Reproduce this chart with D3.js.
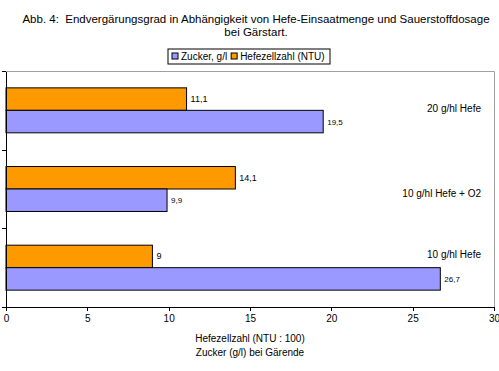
<!DOCTYPE html>
<html>
<head>
<meta charset="utf-8">
<style>
    body { margin: 0; background: white; }
    text { font-family: "Liberation Sans", Arial, sans-serif; fill: black; }
    .bar { stroke: black; stroke-width: 1; }
    .frame { fill: none; stroke: #a0a0a0; stroke-width: 1; }
    .axis path, .axis line { stroke: black; shape-rendering: crispEdges; }
</style>
</head>
<body>
<div id="chart"></div>
<script src="https://cdn.jsdelivr.net/npm/d3@7"></script>
<script>

//////////////////// donnees ////////////////////
let categories = ['20 g/hl Hefe', '10 g/hl Hefe + O2', '10 g/hl Hefe'];
let series = ['Hefezellzahl (NTU)', 'Zucker, g/l'];
let hefezellzahl = [11.1, 14.1, 9];
let zucker = [19.5, 9.9, 26.7];
let x_ticks = [0, 5, 10, 15, 20, 25, 30];
let legend_order = ['Zucker, g/l', 'Hefezellzahl (NTU)'];

//////////////////// mise en page ////////////////////
let W = 499, H = 371;
let plot_left = 6, plot_right = 494, plot_top = 71, plot_bottom = 307;
let colors = { 'Hefezellzahl (NTU)': '#ff9900', 'Zucker, g/l': '#9999ff' };
let label_size = { 'Hefezellzahl (NTU)': 9, 'Zucker, g/l': 8 };
let cat_label_dy = [2, 8, -10];

let svg = d3.select('#chart').append('svg')
    .attr('width', W)
    .attr('height', H);

// titre
let title = svg.append('text')
    .attr('text-anchor', 'middle')
    .style('font-size', '11.5px')
    .style('white-space', 'pre');
title.append('tspan').attr('x', 256).attr('y', 23).text('Abb. 4:  Endvergärungsgrad in Abhängigkeit von Hefe-Einsaatmenge und Sauerstoffdosage');
title.append('tspan').attr('x', 256).attr('y', 36).text('bei Gärstart.');

// echelles
let x = d3.scaleLinear().domain([0, 30]).range([plot_left, plot_right]);
let y0 = d3.scaleBand().domain(categories).range([plot_top, plot_bottom]);
let y1 = d3.scaleBand().domain(series).range([0, y0.bandwidth()]).paddingOuter(0.75);

// cadre
svg.append('path')
    .classed('frame', true)
    .attr('d', `M ${plot_left} ${plot_top + 0.5} L ${plot_right + 0.5} ${plot_top + 0.5} L ${plot_right + 0.5} ${plot_bottom}`);

// barres
let rows = categories.map((c, i) => ({ cat: c, values: [
    { serie: series[0], v: hefezellzahl[i] },
    { serie: series[1], v: zucker[i] }
] }));

let groups = svg.selectAll('.grp').data(rows).enter().append('g')
    .attr('transform', d => `translate(0, ${y0(d.cat)})`);

groups.selectAll('rect').data(d => d.values).enter().append('rect')
    .classed('bar', true)
    .attr('x', x(0))
    .attr('y', d => y1(d.serie))
    .attr('width', d => x(d.v) - x(0))
    .attr('height', y1.bandwidth())
    .attr('fill', d => colors[d.serie]);

groups.selectAll('.val').data(d => d.values).enter().append('text')
    .attr('x', d => x(d.v) + 4)
    .attr('y', d => y1(d.serie) + y1.bandwidth() / 2 + 3)
    .style('font-size', d => label_size[d.serie] + 'px')
    .text(d => String(d.v).replace('.', ','));

// noms des categories
svg.selectAll('.cat').data(categories).enter().append('text')
    .attr('text-anchor', 'end')
    .attr('x', 481)
    .attr('y', (d, i) => y0(d) + y0.bandwidth() / 2 + cat_label_dy[i])
    .style('font-size', '10px')
    .text(d => d);

// axes
let xAxis = svg.append('g')
    .classed('axis', true)
    .attr('transform', `translate(0, ${plot_bottom})`)
    .call(d3.axisBottom(x).tickValues(x_ticks).tickSize(4).tickSizeOuter(0));
xAxis.selectAll('text').style('font-size', '10px').attr('dy', '0.9em').attr('y', 6);

let yLin = d3.scaleLinear().domain([0, categories.length]).range([plot_bottom, plot_top]);
svg.append('g')
    .classed('axis', true)
    .attr('transform', `translate(${plot_left}, 0)`)
    .call(d3.axisLeft(yLin).ticks(categories.length).tickFormat('').tickSize(4).tickSizeOuter(0));

// titre axe x
let xt = svg.append('text')
    .attr('text-anchor', 'middle')
    .style('font-size', '10px');
xt.append('tspan').attr('x', 250).attr('y', 342).text('Hefezellzahl (NTU : 100)');
xt.append('tspan').attr('x', 250).attr('y', 356).text('Zucker (g/l) bei Gärende');

// legende
let lg = svg.append('g').attr('transform', 'translate(168, 49)');
lg.append('rect')
    .attr('width', 162).attr('height', 15)
    .attr('fill', 'white').attr('stroke', 'black');
let lx = 4;
legend_order.forEach((s) => {
    lg.append('rect')
        .attr('x', lx).attr('y', 4).attr('width', 6).attr('height', 6)
        .attr('fill', colors[s]).attr('stroke', 'black');
    let t = lg.append('text')
        .attr('x', lx + 9).attr('y', 11)
        .style('font-size', '10px')
        .text(s);
    lx += 9 + t.node().getComputedTextLength() + 4;
});

</script>
</body>
</html>
